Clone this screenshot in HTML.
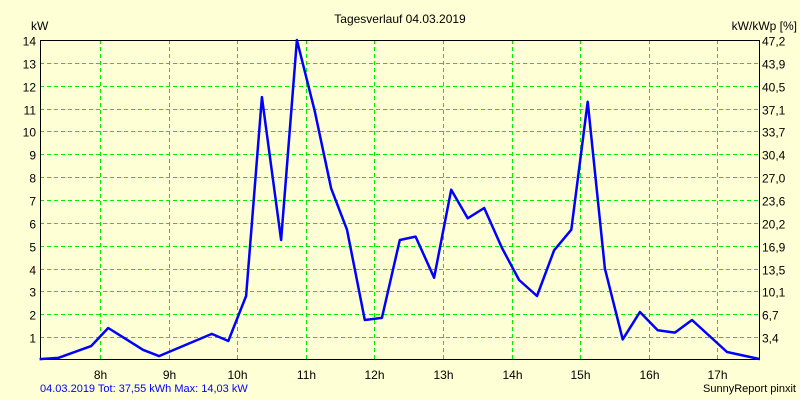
<!DOCTYPE html>
<html><head><meta charset="utf-8"><style>
body{margin:0;background:#ffffd5;}
svg{display:block;font-family:"Liberation Sans",sans-serif;font-size:12px;}
</style></head><body>
<svg id="chart" width="800" height="400">
<rect x="0" y="0" width="800" height="400" fill="#ffffd5"/>
<text x="400" y="23" text-anchor="middle">Tagesverlauf 04.03.2019</text>
<text x="31" y="30">kW</text>
<text x="797" y="30" text-anchor="end">kW/kWp [%]</text>
<g id="grid"></g><g id="axes"></g><g id="series"></g>
<text x="40" y="392" fill="#0000ff" font-size="11">04.03.2019 Tot: 37,55 kWh Max: 14,03 kW</text>
<text x="796" y="392" text-anchor="end" font-size="11">SunnyReport pinxit</text>
</svg>
<script>
const hours=[7.12,7.39,7.87,8.12,8.63,8.86,9.63,9.87,10.13,10.36,10.64,10.87,11.13,11.37,11.6,11.86,12.11,12.37,12.6,12.87,13.12,13.36,13.6,13.86,14.11,14.37,14.62,14.87,15.11,15.36,15.62,15.87,16.13,16.38,16.63,17.14,17.62];
const kw=[0.04,0.09,0.61,1.4,0.44,0.17,1.14,0.83,2.8,11.5,5.25,14.0,10.9,7.5,5.7,1.75,1.84,5.25,5.4,3.6,7.45,6.2,6.65,4.9,3.5,2.8,4.8,5.7,11.3,4.0,0.9,2.1,1.3,1.2,1.75,0.35,0.04];
const xTicks=[8,9,10,11,12,13,14,15,16,17];
const yTicks=[1,2,3,4,5,6,7,8,9,10,11,12,13,14];
const rightLabels=["3,4","6,7","10,1","13,5","16,9","20,2","23,6","27,0","30,4","33,7","37,1","40,5","43,9","47,2"];
const NS="http://www.w3.org/2000/svg";
const L=40,R=759,T=40,B=360;
const xs=h=>100+(h-8)*68.6;
const ys=v=>B-v*(B-T)/14;
function mk(tag,attrs,parent,txt){const e=document.createElementNS(NS,tag);for(const k in attrs)e.setAttribute(k,attrs[k]);if(txt!==undefined)e.textContent=txt;parent.appendChild(e);return e;}
const grid=document.getElementById('grid'),axes=document.getElementById('axes'),series=document.getElementById('series');
xTicks.forEach(h=>{const x=Math.round(xs(h))+0.5;
const g=mk('line',{x1:x,x2:x,y1:T,y2:B-1,stroke:'#00ee00','stroke-dasharray':'4,3'},grid);


const t=mk('text',{x:x,y:379,'text-anchor':'middle'},axes,h+'h');

});
yTicks.forEach((v,i)=>{const y=Math.round(ys(v))+0.5;
if(v<14){const g=mk('line',{x1:L,x2:R,y1:y,y2:y,stroke:'#00ee00','stroke-dasharray':'4,3'},grid);

}
const t=mk('text',{x:36,y:y+5,'text-anchor':'end'},axes,String(v));


const r=mk('text',{x:762,y:y+5},axes,rightLabels[i]);

});
const ax=mk('path',{d:`M${L+0.5},${T} V${B-0.5} H${R+0.5} V${T+0.5} H${L}`,fill:'none',stroke:'#000','stroke-width':1},axes);


const pts=hours.map((h,i)=>xs(h).toFixed(1)+','+ys(kw[i]).toFixed(1)).join(' ');
const line=mk('polyline',{points:pts,fill:'none',stroke:'#0000ff','stroke-width':2.5,'stroke-linejoin':'round'},series);


</script>
</body></html>
